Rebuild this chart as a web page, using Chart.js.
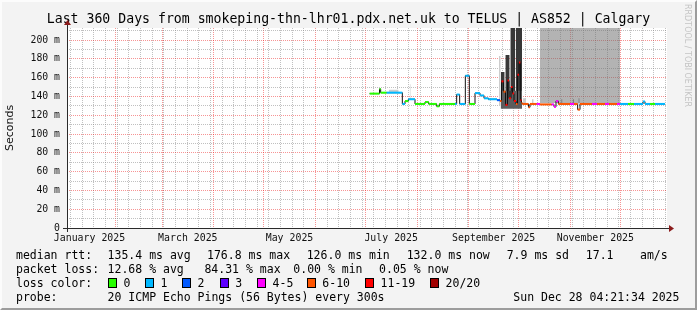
<!DOCTYPE html>
<html>
<head>
<meta charset="utf-8">
<script src="https://cdn.jsdelivr.net/npm/chart.js@4.4.1/dist/chart.umd.min.js"></script>
<style>
  html, body { margin: 0; padding: 0; background: #f3f3f3; }
  #wrap { position: relative; width: 697px; height: 310px; overflow: hidden; }
  #frame { position: absolute; left: 0; top: 0; width: 697px; height: 310px; box-sizing: border-box;
           border-top: 2px solid #fcfcfc; border-left: 2px solid #fcfcfc;
           border-right: 2px solid #9c9c9c; border-bottom: 2px solid #9c9c9c; pointer-events: none; }
  canvas { position: absolute; left: 0; top: 0; }
  .lg { position: absolute; font-family: 'DejaVu Sans Mono', monospace; font-size: 11.5px; color: #000;
        white-space: pre; line-height: 14px; }
  .box { position: absolute; width: 7px; height: 8px; border: 1px solid #000; }
  #rrd { position: absolute; left: 683px; top: 4px; writing-mode: vertical-rl;
         font-family: 'DejaVu Sans', sans-serif; font-size: 8px; color: #c4c4c4; }
</style>
</head>
<body>
<div id="wrap">
  <canvas id="chart" width="697" height="310"></canvas>
  <div id="legend"></div>
  <div id="rrd">RRDTOOL / TOBI OETIKER</div>
  <div id="frame"></div>
</div>
<script>
// x axis is in days since 1 Jan 2025
const dayMin = 2, dayMax = 362;
const yMax = 212.8;

const monthStarts = [31, 59, 90, 120, 151, 181, 212, 243, 273, 304, 334];
const monthLabelDays = [15.5, 74.5, 135.5, 196.5, 258, 319];
const monthLabels = ['January 2025', 'March 2025', 'May 2025', 'July 2025', 'September 2025', 'November 2025'];
const yLabelTicks = [0, 20, 40, 60, 80, 100, 120, 140, 160, 180, 200];
const yMinorTicks = [10, 30, 50, 70, 90, 110, 130, 150, 170, 190, 210];

// loss colours (index used by medLoss)
const lossColors = ['#26ff00', '#00b8ff', '#0059ff', '#5e00ff', '#ff00ff', '#ff5500', '#ff0000', '#a10000'];
const lossLabels = ['0', '1', '2', '3', '4-5', '6-10', '11-19', '20/20'];

// median rtt (ms), step starts
const medDay  = [183.6, 189.5, 190.2, 193.8, 203.2, 204.8, 206.8, 210.8, 216.8, 219, 223.8, 225.4,
                 234.8, 235.8, 237.6, 241, 243.4, 246.8, 249.8, 252.2, 254.8, 260,
                 261.8, 262.7, 263.9, 265.1, 266.3, 267.2, 268.4, 269.3, 270.2, 271.4, 272.3, 273.2, 274, 274.7,
                 275.2, 278.9, 279.8, 283.8, 285.8, 292.8, 294.2, 295.4, 296.8, 303.8, 306.2, 308.4, 309.8,
                 317, 320, 324.8, 327.2, 332, 333.8, 338.6, 342.2, 347.6, 348.8, 351.8, 354.8];
const medRtt  = [143, 148, 144, 144, 132, 135, 137, 132, 134, 132, 129.5, 132,
                 132, 142, 132, 162, 132, 143.5, 141, 138, 137, 136,
                 135, 156, 145, 131, 157, 138, 150, 143, 135, 132, 163, 176, 136, 133,
                 132, 128.5, 132, 132, 131.5, 131.5, 129, 135, 132, 132, 132, 126, 132,
                 132, 132, 132, 132, 132, 132, 132, 132, 134.5, 132, 132, 132];
const medLoss = [0, 0, 0, 1, 1, 0, 1, 0, 0, 0, 0, 0,
                 1, 1, 1, 1, 0, 1, 1, 1, 1, 2,
                 5, 6, 5, 6, 6, 6, 6, 6, 6, 5, 6, 6, 6, 5,
                 5, 5, 5, 4, 5, 4, 4, 4, 5, 4, 5, 5, 5,
                 4, 5, 4, 5, 4, 1, 0, 1, 1, 1, 0, 1];
const medEnd = 360.8;

// smoke: day range, rtt range, shade index
const smokeFrom  = [285.8, 195, 207.6, 261.2, 262.2, 262.4, 265.0, 268.0, 271.2, 275.5, 281, 298.5, 305.5, 308.8];
const smokeTo    = [333.8, 201, 208.2, 262.2, 275.0, 264.6, 267.6, 270.8, 275.0, 277.5, 282, 299.3, 306.3, 309.6];
const smokeLow   = [133, 144, 137, 130, 127, 128, 128, 128, 128, 132, 132, 132, 132, 132];
const smokeHigh  = [214, 147, 153, 183, 146, 166, 184, 214, 214, 138, 137, 137, 137, 138];
const smokeShade = [0, 1, 1, 1, 4, 2, 2, 2, 2, 1, 1, 3, 3, 3];
const shades = ['rgba(110,110,110,0.52)', '#cdcdcd', '#383838', '#8e8e8e', '#5c5c5c'];

// legend text
const rttStats  = [[16, 'median rtt:'], [107.6, '135.4 ms avg'], [207, '176.8 ms max'], [306.7, '126.0 ms min'],
                   [406.7, '132.0 ms now'], [506.7, '7.9 ms sd'], [585.8, '17.1'], [640, 'am/s']];
const lossStats = [[16, 'packet loss:'], [107.6, '12.68 % avg'], [204.4, '84.31 % max'], [293.3, '0.00 % min'],
                   [379.1, '0.05 % now']];
const lossBoxX  = [108, 145, 182, 219.6, 257, 306.7, 365, 430];
const probeText = [[16, 'probe:'], [107.6, '20 ICMP Echo Pings (56 Bytes) every 300s'], [513.3, 'Sun Dec 28 04:21:34 2025']];

const sundays = [];
for (let d = 4; d <= dayMax; d += 7) if (!monthStarts.includes(d)) sundays.push(d);

const minorColor = 'rgba(130,130,130,0.5)';
const majorColor = 'rgba(235,0,0,0.42)';
const axisColor = '#2a2a2a';
const monoFont = 'DejaVu Sans Mono';

// ---- legend (html text)
const legend = document.getElementById('legend');
function addText(x, y, s) {
  const el = document.createElement('div');
  el.className = 'lg';
  el.style.left = x + 'px';
  el.style.top = (y - 7) + 'px';
  el.textContent = s;
  legend.appendChild(el);
}
rttStats.forEach(([x, s]) => addText(x, 254.5, s));
lossStats.forEach(([x, s]) => addText(x, 268.5, s));
addText(16, 282.5, 'loss color:');
lossBoxX.forEach((x, i) => {
  const b = document.createElement('div');
  b.className = 'box';
  b.style.left = x + 'px';
  b.style.top = '277.5px';
  b.style.background = lossColors[i];
  legend.appendChild(b);
  addText(x + 15.6, 282.5, lossLabels[i]);
});
probeText.forEach(([x, s]) => addText(x, 296.5, s));

// ---- datasets
const medianLine = medDay.map((d, i) => ({ x: d, y: medRtt[i] }));
medianLine.push({ x: medEnd, y: medRtt[medRtt.length - 1] });

const medianColored = [];
medDay.forEach((d, i) => {
  const next = i + 1 < medDay.length ? medDay[i + 1] : medEnd;
  medianColored.push({ x: d, y: medRtt[i] }, { x: next, y: medRtt[i] }, { x: next, y: null });
});

const smokeSets = smokeFrom.map((from, i) => ({
  type: 'line',
  data: [{ x: from, y: smokeHigh[i] }, { x: smokeTo[i], y: smokeHigh[i] }],
  fill: { value: smokeLow[i] },
  backgroundColor: shades[smokeShade[i]],
  borderWidth: 0,
  pointRadius: 0,
  order: 5,
  xAxisID: 'x', yAxisID: 'y'
}));

// white plot canvas + axis arrows
const canvasPlugin = {
  id: 'canvasBg',
  beforeDraw(chart) {
    const { ctx, chartArea: a } = chart;
    ctx.save();
    ctx.fillStyle = '#ffffff';
    ctx.fillRect(a.left, a.top, a.right - a.left, a.bottom - a.top);
    ctx.restore();
  },
  afterDraw(chart) {
    const { ctx, chartArea: a } = chart;
    const bx = Math.round(a.left) + 0.5, by = Math.round(a.bottom) + 0.5;
    ctx.save();
    ctx.strokeStyle = axisColor;
    ctx.lineWidth = 1;
    ctx.beginPath();
    ctx.moveTo(a.left - 4, by); ctx.lineTo(a.right + 3, by);
    ctx.moveTo(bx, a.bottom + 4); ctx.lineTo(bx, a.top - 4);
    ctx.stroke();
    ctx.fillStyle = '#8b1c1c';
    ctx.beginPath();
    ctx.moveTo(a.right + 2, by - 3.5); ctx.lineTo(a.right + 7, by); ctx.lineTo(a.right + 2, by + 3.5);
    ctx.closePath(); ctx.fill();
    ctx.beginPath();
    ctx.moveTo(bx - 3.5, a.top - 3); ctx.lineTo(bx, a.top - 8); ctx.lineTo(bx + 3.5, a.top - 3);
    ctx.closePath(); ctx.fill();
    ctx.restore();
  }
};

function gridAxis(axis, ticks, color, position) {
  return {
    type: 'linear',
    axis: axis,
    position: position,
    min: axis === 'x' ? dayMin : 0,
    max: axis === 'x' ? dayMax : yMax,
    afterBuildTicks: s => { s.ticks = ticks.map(v => ({ value: v })); },
    afterFit: s => { if (axis === 'x') s.height = 0; else s.width = 0; },
    ticks: { display: false },
    grid: { color: color, lineWidth: 1, drawTicks: false },
    border: { display: false, dash: [1, 1] }
  };
}

new Chart(document.getElementById('chart'), {
  type: 'line',
  plugins: [canvasPlugin],
  data: {
    datasets: [
      {
        label: 'median loss colour',
        data: medianColored,
        borderWidth: 2,
        pointRadius: 0,
        spanGaps: false,
        segment: { borderColor: c => lossColors[medLoss[Math.floor(c.p0DataIndex / 3)]] },
        borderColor: lossColors[0],
        order: 1,
        xAxisID: 'x', yAxisID: 'y'
      },
      {
        label: 'median',
        data: medianLine,
        stepped: true,
        borderColor: '#111111',
        borderWidth: 1,
        pointRadius: 0,
        order: 2,
        xAxisID: 'x', yAxisID: 'y'
      },
      ...smokeSets
    ]
  },
  options: {
    responsive: false,
    devicePixelRatio: 1,
    animation: false,
    layout: { padding: 0 },
    plugins: {
      legend: { display: false },
      tooltip: { enabled: false },
      title: {
        display: true,
        text: 'Last 360 Days from smokeping-thn-lhr01.pdx.net.uk to TELUS | AS852 | Calgary',
        color: '#000',
        font: { family: monoFont, size: 13.2, weight: 'normal', lineHeight: 1.2 },
        padding: { top: 11.5, bottom: 0.66 }
      }
    },
    scales: {
      xMinor: gridAxis('x', sundays, minorColor, 'bottom'),
      xMajor: gridAxis('x', monthStarts, majorColor, 'bottom'),
      x: {
        type: 'linear',
        position: 'bottom',
        min: dayMin,
        max: dayMax,
        afterBuildTicks: s => { s.ticks = monthLabelDays.map(v => ({ value: v })); },
        afterFit: s => { s.height = 82; },
        grid: { display: false, drawTicks: false },
        border: { display: true, color: axisColor, width: 1 },
        ticks: {
          autoSkip: false, maxRotation: 0, padding: 4, color: '#111',
          font: { family: monoFont, size: 9.9 },
          callback: (v, i) => monthLabels[i]
        }
      },
      yMinor: gridAxis('y', yMinorTicks, minorColor, 'left'),
      yMajor: gridAxis('y', yLabelTicks.filter(v => v > 0), majorColor, 'left'),
      y: {
        type: 'linear',
        position: 'left',
        min: 0,
        max: yMax,
        afterBuildTicks: s => { s.ticks = yLabelTicks.map(v => ({ value: v })); },
        afterFit: s => { s.width = 67; },
        grid: { display: false, drawTicks: false },
        border: { display: true, color: axisColor, width: 1 },
        ticks: {
          padding: 7, color: '#111',
          font: { family: monoFont, size: 9.8 },
          callback: v => (v === 0 ? '0' : v + ' m')
        },
        title: {
          display: true, text: 'Seconds', color: '#111',
          font: { family: 'DejaVu Sans', size: 11 },
          padding: { top: 4, bottom: 0 }
        }
      },
      // empty strip right of the plot, keeps the title centred on the whole image
      yRight: {
        type: 'linear',
        position: 'right',
        min: 0,
        max: yMax,
        afterFit: s => { s.width = 30; },
        ticks: { display: false },
        grid: { display: false, drawTicks: false },
        border: { display: false }
      }
    }
  }
});
</script>
</body>
</html>
